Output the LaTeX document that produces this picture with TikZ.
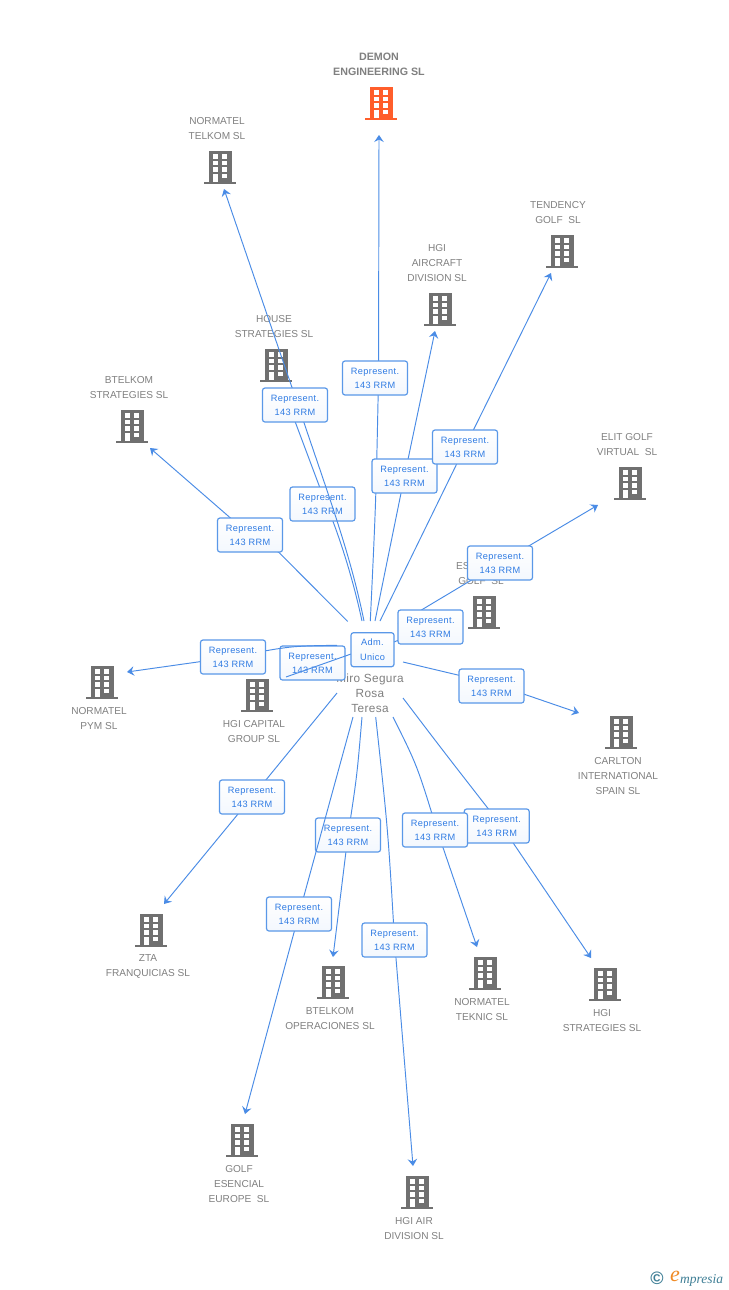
\documentclass[tikz,border=0pt]{standalone}
\usepackage{fontspec}
\setmainfont{Liberation Sans}
\newfontfamily\repfont[LetterSpace=4]{Liberation Sans}
\newfontfamily\hubfont[LetterSpace=3]{Liberation Sans}
\newfontfamily\logofont{Liberation Serif}
\usetikzlibrary{arrows.meta}
\definecolor{linkblue}{HTML}{4A8CE6}
\definecolor{boxblue}{HTML}{5A98E8}
\definecolor{reptext}{HTML}{2F7BE3}
\definecolor{labelgray}{HTML}{808080}
\definecolor{bldggray}{HTML}{707070}
\definecolor{bldgorange}{HTML}{FF5E2B}
\definecolor{logoteal}{HTML}{3F7F96}
\definecolor{logoorange}{HTML}{F08A24}
\pgfdeclarelayer{bg}\pgfdeclarelayer{connlow}\pgfdeclarelayer{lowbox}\pgfdeclarelayer{conn}
\pgfsetlayers{bg,connlow,lowbox,conn,main}
\tikzset{
  x=1pt,y=-1pt,
  link/.style={draw=linkblue,line width=0.95pt},
  linkarrow/.style={link,-{Stealth[length=7pt,width=9.5pt,inset=2.5pt]}},
  repbox/.style={draw=boxblue,line width=1.2pt,rounded corners=2.5pt,top color=white,bottom color=boxblue!7,
    minimum width=65pt,minimum height=34pt,inner sep=0pt,align=center,text=reptext,
    font=\repfont\fontsize{9.2}{14.5}\selectfont},
  admbox/.style={repbox,minimum width=43pt},
  complabel/.style={align=center,text=labelgray,inner sep=0pt,font=\fontsize{10.1}{15}\selectfont},
  mainlabel/.style={complabel,font=\bfseries\fontsize{10.7}{15}\selectfont},
  hublabel/.style={align=center,text=labelgray,inner sep=0pt,font=\hubfont\fontsize{11.8}{15}\selectfont},
}
\newcommand{\bldg}[3]{%
  \begin{scope}[shift={(#1,#2)}]
    \fill[#3] (-11.5,-16.5) rectangle (11.5,14.5);
    \fill[#3] (-16,14.5) rectangle (16,17);
    \foreach \wx in {-7.3,2.4}{\foreach \wy in {-12.7,-6.2,0.3}{\fill[white] (\wx,\wy) rectangle ++(4.8,4.4);}}
    \fill[white] (-7.3,6.6) rectangle (-2.5,15);
    \fill[white] (2.4,6.6) rectangle (7.2,11);
  \end{scope}}
\newcommand{\company}[7][complabel]{%
  \begin{pgfonlayer}{bg}
    \bldg{#3}{#4}{#7}
    \node[#1] (#2) at (#5,#6) {\ignorespaces\companytext};
  \end{pgfonlayer}}
\newcommand{\rep}[3]{\node[repbox] (#1) at (#2,#3) {\raisebox{-0.8pt}{Represent.}\\\raisebox{-0.4pt}{143 RRM}};}
\begin{document}
\begin{tikzpicture}
\useasboundingbox (0,0) rectangle (728,1290);
\begin{pgfonlayer}{bg}
\fill[white] (0,0) rectangle (728,1290);
\end{pgfonlayer}
% companies
\def\companytext{DEMON\\ENGINEERING SL}\company[mainlabel]{demon}{381}{103}{379}{64.5}{bldgorange}
\def\companytext{NORMATEL\\TELKOM SL}\company{telkom}{220}{167}{217}{128.5}{bldggray}
\def\companytext{TENDENCY\\GOLF\ \ SL}\company{tendency}{562}{251}{558}{212.5}{bldggray}
\def\companytext{HGI\\AIRCRAFT\\DIVISION SL}\company{aircraft}{440}{309}{437}{263}{bldggray}
\def\companytext{HOUSE\\STRATEGIES SL}\company{house}{276}{365}{274}{326.5}{bldggray}
\def\companytext{BTELKOM\\STRATEGIES SL}\company{bstrat}{132}{426}{129}{387.5}{bldggray}
\def\companytext{ELIT GOLF\\VIRTUAL\ \ SL}\company{elit}{630}{483}{627}{444.5}{bldggray}
\def\companytext{ESENCIAL\\GOLF\ \ SL}\company{esencial}{484}{612}{481}{573.5}{bldggray}
\def\companytext{NORMATEL\\PYM SL}\company{pym}{102}{682}{99}{718.5}{bldggray}
\def\companytext{HGI CAPITAL\\GROUP SL}\company{capital}{257}{695}{254}{731.5}{bldggray}
\def\companytext{CARLTON\\INTERNATIONAL\\SPAIN SL}\company{carlton}{621}{732}{618}{776}{bldggray}
\def\companytext{ZTA\\FRANQUICIAS SL}\company{zta}{151}{930}{148}{966.5}{bldggray}
\def\companytext{BTELKOM\\OPERACIONES SL}\company{boper}{333}{982}{330}{1018.5}{bldggray}
\def\companytext{NORMATEL\\TEKNIC SL}\company{teknic}{485}{973}{482}{1009.5}{bldggray}
\def\companytext{HGI\\STRATEGIES SL}\company{hstrat}{605}{984}{602}{1020.5}{bldggray}
\def\companytext{GOLF\\ESENCIAL\\EUROPE\ \ SL}\company{golf}{242}{1140}{239}{1184}{bldggray}
\def\companytext{HGI AIR\\DIVISION SL}\company{air}{417}{1192}{414}{1228.5}{bldggray}
% hub
\begin{pgfonlayer}{bg}
\node[hublabel] (hub) at (370,693) {Miro Segura\\Rosa\\Teresa};
\end{pgfonlayer}
% boxes lying under some connectors
\begin{pgfonlayer}{lowbox}
\rep{r3}{322.5}{504}
\rep{r10}{312.5}{663}
\rep{r14}{348}{835}
\end{pgfonlayer}
% boxes
\rep{r1}{375}{378}
\rep{r2}{295}{405}
\rep{r4}{404.5}{476}
\rep{r5}{465}{447}
\rep{r6}{250}{535}
\rep{r7}{500}{563}
\rep{r8}{430.5}{627}
\rep{r9}{233}{657}
\rep{r11}{491.5}{686}
\rep{r12}{252}{797}
\rep{r13}{299}{914}
\rep{r15}{394.5}{940}
\rep{r17}{496.7}{826}
\rep{r16}{435}{830}
\node[admbox] (adm) at (372.5,649.7) {\raisebox{-0.8pt}{Adm.}\\\raisebox{-0.4pt}{Unico}};
% free ends
\coordinate (s1) at (370.3,621);  \coordinate (t1) at (379,135);
\coordinate (s2) at (364,621);  \coordinate (t2) at (224,189);
\coordinate (s3) at (362,621);  \coordinate (t3) at (287,400);
\coordinate (s4) at (375,621);  \coordinate (t4) at (435,331);
\coordinate (s5) at (380,621);  \coordinate (t5) at (551,273);
\coordinate (s6) at (347.7,621.5);  \coordinate (t6) at (150,448);
\coordinate (s7) at (398,624);  \coordinate (t7) at (598,505);
\coordinate (s8) at (394,642);
\coordinate (s9) at (337,645.3); \coordinate (t9) at (127,672);
\coordinate (s10) at (351,654); \coordinate (t10) at (286,677);
\coordinate (s11) at (403,662); \coordinate (t11) at (579,713);
\coordinate (s12) at (337,693); \coordinate (t12) at (164,904);
\coordinate (s13) at (353,717); \coordinate (t13) at (245,1114);
\coordinate (s14) at (362,717); \coordinate (t14) at (333,957);
\coordinate (s15) at (375.7,717); \coordinate (t15) at (413,1166);
\coordinate (s16) at (393,717); \coordinate (t16) at (477,947);
\coordinate (s17) at (403,698); \coordinate (t17) at (591,958);
% connectors under the low boxes
\begin{pgfonlayer}{connlow}
\draw[link] (s3) .. controls (350,565) and (333,520) .. ([xshift=3.5pt]r3.center) -- (t3);
\draw[linkarrow] (s14) .. controls (357,776) .. (r14.center) -- (t14);
\end{pgfonlayer}
% connectors
\begin{pgfonlayer}{conn}
\draw[linkarrow] (s1) .. controls (376,500) .. ([xshift=3.5pt]r1.center) -- (t1);
\draw[linkarrow] (s2) .. controls (350,553) and (330,500) .. ([xshift=3pt]r2.center) -- (t2);
\draw[linkarrow] (s4) -- (r4.center) -- (t4);
\draw[linkarrow] (s5) -- (r5.center) -- (t5);
\draw[linkarrow] (s6) -- ([xshift=-4pt]r6.south east) -- (r6.center) -- (t6);
\draw[linkarrow] (s7) -- (r7.center) -- (t7);
\draw[link] (s8) -- (r8.center);
\draw[linkarrow] (s9) .. controls (290,646) .. (r9.center) -- (t9);
\draw[link] (s10) -- (t10);
\draw[linkarrow] (s11) -- ([yshift=3pt]r11.center) -- (t11);
\draw[linkarrow] (s12) -- (r12.center) -- (t12);
\draw[linkarrow] (s13) -- (r13.center) -- (t13);
\draw[linkarrow] (s15) .. controls (388,830) .. (r15.center) -- (t15);
\draw[linkarrow] (s16) .. controls (417,765) .. ([xshift=2pt]r16.center) -- (t16);
\draw[linkarrow] (s17) .. controls (444,752) .. ([xshift=5pt]r17.center) -- (t17);
\end{pgfonlayer}
% logo
\node[inner sep=0pt,text=logoteal,font=\bfseries\fontsize{18}{18}\selectfont] (copy) at (657,1278) {©};
\node[inner sep=0pt,anchor=west,text=logoorange,font=\logofont\itshape\fontsize{22}{22}\selectfont] (logoe) at (670,1276) {e};
\node[inner sep=0pt,anchor=west,text=logoteal,font=\logofont\itshape\fontsize{13.5}{13.5}\selectfont] (logot) at (680,1280) {mpresia};
\end{tikzpicture}
\end{document}
